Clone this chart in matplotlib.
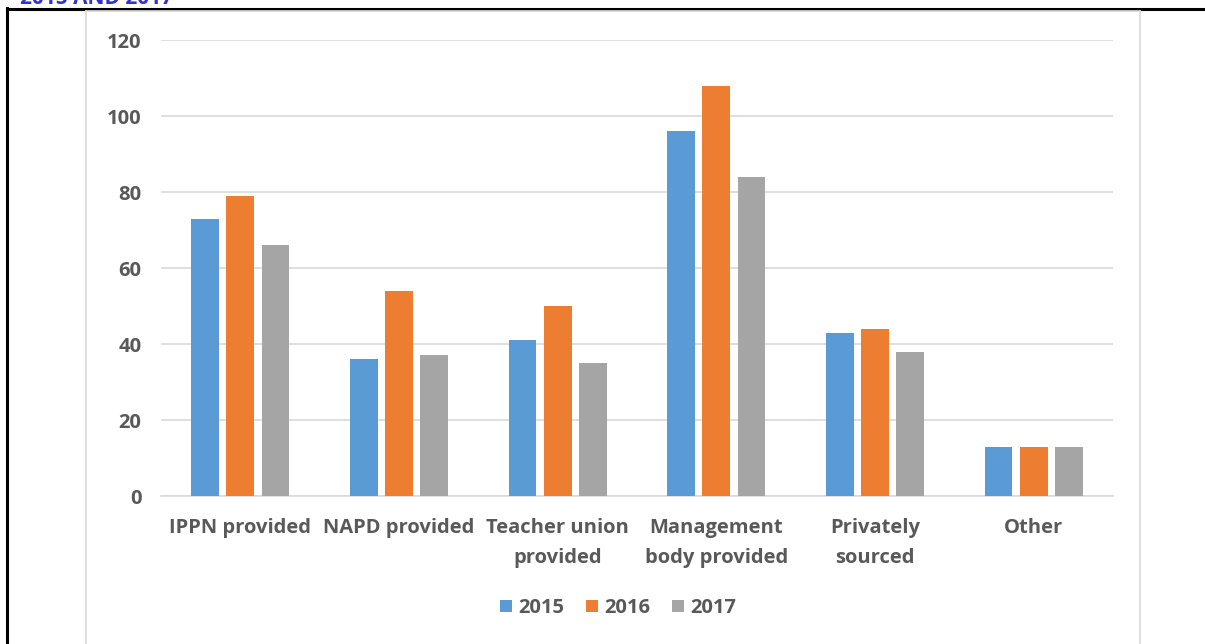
import matplotlib
matplotlib.use("Agg")
import matplotlib.pyplot as plt
import numpy as np
from matplotlib.lines import Line2D

categories = ["IPPN provided", "NAPD provided", "Teacher union\nprovided",
              "Management\nbody provided", "Privately\nsourced", "Other"]
years = ["2015", "2016", "2017"]
v2015 = [73, 36, 41, 96, 43, 13]
v2016 = [79, 54, 50, 108, 44, 13]
v2017 = [66, 37, 35, 84, 38, 13]
yticks = [0, 20, 40, 60, 80, 100, 120]

colors = ["#5B9BD5", "#ED7D31", "#A5A5A5"]
txt = "#595959"
W, H = 1205, 644
fig = plt.figure(figsize=(W/100, H/100), dpi=100)
fam = ["Open Sans", "DejaVu Sans"]
fs = 14.5

# document borders
fig.add_artist(Line2D([6.5/W, 6.5/W], [0, 1 - 8/H], color="black", lw=2.2))
fig.add_artist(Line2D([6.5/W, 1], [1 - 9/H, 1 - 9/H], color="black", lw=2.2))
# chart frame
fig.add_artist(Line2D([86/W, 86/W], [0, 1 - 11/H], color="#D9D9D9", lw=1.2))
fig.add_artist(Line2D([1140/W, 1140/W], [0, 1 - 11/H], color="#D9D9D9", lw=1.2))
fig.add_artist(Line2D([86/W, 1140/W], [1 - 11/H, 1 - 11/H], color="#D9D9D9", lw=1.2))
# cut-off title (cropped in the reference)
fig.text(20/W, 1 - 4/H, "2015 AND 2017", color="#3333CC", fontsize=15,
         fontweight="bold", family=fam, va="baseline")

x0, x1 = 161, 1113
y0, y1 = 496, 40
ax = fig.add_axes([x0/W, 1 - y0/H, (x1-x0)/W, (y0-y1)/H])
ax.set_xlim(-0.5, len(categories) - 0.5)
ax.set_ylim(0, 120)

x = np.arange(len(categories))
bw = 0.175
step = 0.221
for i, (vals, c, yr) in enumerate(zip([v2015, v2016, v2017], colors, years)):
    ax.bar(x + (i - 1) * step, vals, width=bw, color=c, label=yr, zorder=3)

ax.set_yticks(yticks)
ax.set_yticklabels([str(t) for t in yticks], color=txt, fontsize=fs,
                   fontweight="bold", family=fam)
ax.set_xticks(x)
ax.set_xticklabels(categories, color=txt, fontsize=fs, fontweight="bold",
                   family=fam, linespacing=1.62)
ax.tick_params(axis="both", length=0)
ax.tick_params(axis="y", pad=14)
ax.tick_params(axis="x", pad=16)
ax.grid(axis="y", color="#D9D9D9", lw=1.2, zorder=0)
for s in ["top", "right", "left"]:
    ax.spines[s].set_visible(False)
ax.spines["bottom"].set_color("#D9D9D9")
ax.spines["bottom"].set_linewidth(1.2)

leg = fig.legend(loc="center", bbox_to_anchor=(618/W, 1 - 608/H), ncol=3,
                 frameon=False, handlelength=0.6, handleheight=0.6,
                 handletextpad=0.3, columnspacing=1.1,
                 prop={"family": fam, "weight": "bold", "size": fs})
for t in leg.get_texts():
    t.set_color(txt)

fig.savefig("out.png", dpi=100)
